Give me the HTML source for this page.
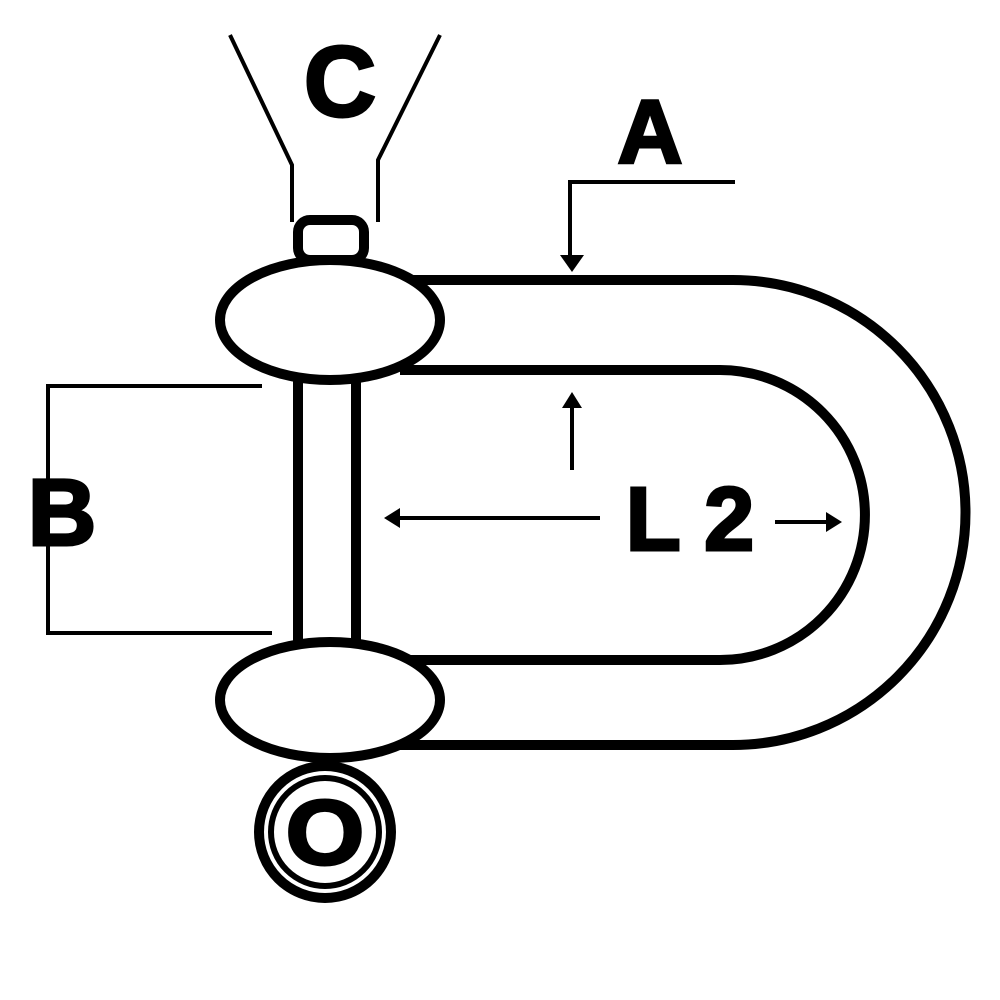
<!DOCTYPE html>
<html><head><meta charset="utf-8"><style>html,body{margin:0;padding:0;background:#fff}svg{display:block}</style></head>
<body>
<svg width="1000" height="1000" viewBox="0 0 1000 1000" xmlns="http://www.w3.org/2000/svg">
<g fill="none" stroke="#000" stroke-width="10" stroke-linejoin="round">
<path d="M400 280 H733 A232 232 0 0 1 733 745 H400"/>
<path d="M400 370 H720 A145 145 0 0 1 720 660 H400"/>
<rect x="298" y="375" width="58" height="270" fill="#fff"/>
<rect x="298" y="220" width="66" height="40" rx="12" fill="#fff"/>
<ellipse cx="330" cy="320" rx="110" ry="60" fill="#fff"/>
<ellipse cx="330" cy="700" rx="110" ry="58" fill="#fff"/>
<circle cx="325" cy="832" r="66" fill="#fff"/>
<circle cx="325" cy="832" r="54" stroke-width="6"/>
</g>
<g fill="none" stroke="#000" stroke-width="4">
<path d="M230 35 L292 165 V222"/>
<path d="M440 35 L378 160 V222"/>
<path d="M735 182 H570 V262"/>
<path d="M572 470 V398"/>
<path d="M390 518 H600"/>
<path d="M775 522 H835"/>
<path d="M262 386 H48 V633 H272"/>
</g>
<g fill="#000">
<path d="M560 255 L572 272 L584 255 Z"/>
<path d="M562 408 L572 392 L582 408 Z"/>
<path d="M400 508 L384 518 L400 528 Z"/>
<path d="M826 512 L842 522 L826 532 Z"/>
</g>
<g font-family="Liberation Sans, sans-serif" font-weight="bold" fill="#000" stroke="#000" stroke-width="3">
<text x="340" y="116" font-size="100" text-anchor="middle">C</text>
<text x="650" y="163" font-size="90" text-anchor="middle">A</text>
<text x="62" y="545" font-size="95" text-anchor="middle">B</text>
<text x="690" y="550" font-size="90" text-anchor="middle">L 2</text>
<text x="325" y="864" font-size="92" text-anchor="middle" transform="translate(325 0) scale(1.1 1) translate(-325 0)">O</text>
</g>
</svg>
</body></html>
